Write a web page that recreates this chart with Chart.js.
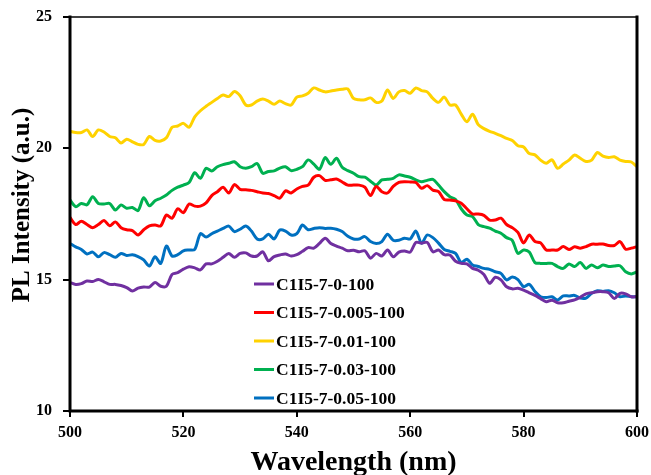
<!DOCTYPE html>
<html>
<head>
<meta charset="utf-8">
<script src="https://cdn.jsdelivr.net/npm/chart.js@4.4.1/dist/chart.umd.min.js"></script>
<style>
html,body{margin:0;padding:0;background:#fff;}
#wrap{width:651px;height:475px;}
</style>
</head>
<body>
<div id="wrap"><canvas id="c" width="651" height="475"></canvas></div>
<script>
const wavelengths = Array.from({length: 101}, (_, i) => 500 + i);

const seriesNames = ["C1I5-7-0-100", "C1I5-7-0.005-100", "C1I5-7-0.01-100", "C1I5-7-0.03-100", "C1I5-7-0.05-100"];

const s0 = [14.89,14.82,14.85,14.95,14.93,15.01,14.92,14.82,14.82,14.78,
14.70,14.57,14.68,14.72,14.72,14.89,14.75,14.75,15.20,15.27,
15.40,15.49,15.45,15.37,15.60,15.60,15.70,15.85,16.00,15.85,
16.00,16.02,15.90,15.90,16.06,15.72,15.88,15.94,15.98,15.90,
15.95,16.08,16.22,16.20,16.38,16.58,16.38,16.28,16.20,16.10,
16.12,16.06,16.10,15.82,16.00,15.90,16.13,15.87,16.05,16.09,
16.05,16.42,16.39,16.42,16.06,16.13,15.95,15.94,15.70,15.62,
15.60,15.43,15.36,15.20,14.86,15.09,14.99,14.73,14.65,14.67,
14.60,14.50,14.40,14.28,14.16,14.22,14.12,14.12,14.18,14.23,
14.33,14.46,14.50,14.54,14.54,14.50,14.28,14.48,14.46,14.35,14.35];

const s005 = [17.37,17.10,17.22,17.10,16.98,17.10,17.25,17.05,17.20,16.98,
16.90,16.87,16.70,16.90,17.05,17.08,17.05,17.46,17.34,17.70,
17.55,17.88,17.80,17.80,17.92,18.20,18.35,18.52,18.30,18.62,
18.44,18.42,18.40,18.35,18.30,18.28,18.20,18.10,18.38,18.30,
18.45,18.55,18.60,18.90,18.96,18.78,18.80,18.83,18.72,18.60,
18.60,18.60,18.52,18.20,18.55,18.35,18.30,18.55,18.70,18.73,
18.72,18.70,18.48,18.58,18.41,18.35,18.05,18.03,18.00,17.91,
17.70,17.50,17.50,17.45,17.27,17.27,17.34,17.10,16.98,16.80,
16.40,16.70,16.45,16.40,16.13,16.13,16.13,16.26,16.15,16.25,
16.20,16.26,16.35,16.35,16.36,16.30,16.30,16.45,16.16,16.20,16.26];

const s01 = [20.65,20.60,20.60,20.70,20.45,20.70,20.62,20.45,20.40,20.20,
20.35,20.25,20.15,20.15,20.45,20.30,20.28,20.40,20.80,20.85,
20.95,20.80,21.20,21.43,21.60,21.75,21.90,22.03,21.97,22.16,
22.00,21.65,21.65,21.80,21.88,21.80,21.68,21.80,21.70,21.65,
21.95,22.00,22.10,22.30,22.22,22.15,22.18,22.22,22.25,22.26,
21.90,21.85,21.85,21.92,21.75,21.80,22.22,21.90,22.15,22.20,
22.10,22.30,22.20,22.15,21.90,21.75,21.95,21.65,21.65,21.30,
21.01,21.30,20.90,20.75,20.65,20.57,20.48,20.38,20.30,20.10,
20.05,19.80,19.75,19.55,19.43,19.56,19.24,19.40,19.55,19.75,
19.62,19.50,19.55,19.84,19.70,19.65,19.68,19.55,19.50,19.48,19.30];

const s03 = [18.03,17.78,17.90,17.85,18.16,17.90,17.88,17.90,17.65,17.84,
17.72,17.75,17.63,18.12,17.81,18.00,18.10,18.22,18.40,18.52,
18.60,18.70,19.07,18.86,19.24,19.14,19.30,19.38,19.43,19.49,
19.30,19.24,19.30,19.42,19.05,19.12,19.14,19.25,19.30,19.15,
19.20,19.30,19.56,19.40,19.20,19.65,19.39,19.62,19.28,19.15,
19.05,18.92,18.90,18.75,18.60,18.80,18.82,18.86,18.99,18.95,
18.90,18.80,18.73,18.78,18.82,18.60,18.35,18.16,18.05,17.70,
17.46,17.40,17.10,17.02,16.96,16.85,16.77,16.60,16.50,16.00,
16.13,16.05,15.65,15.62,15.62,15.62,15.50,15.43,15.60,15.50,
15.65,15.43,15.56,15.45,15.56,15.50,15.52,15.53,15.30,15.22,15.30];

const s05 = [16.38,16.25,16.15,15.98,16.05,15.87,16.03,15.95,15.85,16.00,
15.92,15.95,15.88,15.75,15.52,15.87,15.62,16.28,15.90,15.95,
16.10,16.13,16.15,16.75,16.62,16.75,16.85,16.95,17.04,16.83,
16.92,17.04,16.85,16.55,16.55,16.73,16.55,16.89,16.85,16.70,
16.75,17.08,16.90,16.95,16.98,16.95,16.96,16.92,16.83,16.65,
16.55,16.55,16.64,16.45,16.38,16.45,16.73,16.50,16.50,16.58,
16.55,16.85,16.39,16.70,16.60,16.39,16.15,16.08,16.00,15.65,
15.78,15.56,15.50,15.43,15.39,15.30,15.24,14.99,15.10,15.00,
14.73,14.82,14.55,14.35,14.32,14.35,14.23,14.38,14.38,14.40,
14.30,14.30,14.48,14.58,14.55,14.58,14.50,14.35,14.38,14.35,14.35];

const xTicks = [500, 520, 540, 560, 580, 600];
const yTicks = [10, 15, 20, 25];

const colors = ["#7030A0", "#FF0000", "#FFD200", "#00B050", "#0070C0"];
const seriesValues = [s0, s005, s01, s03, s05];

const FONT = "'Liberation Serif', 'Times New Roman', serif";
const Y_TITLE = 'PL Intensity (a.u.)';

const frame = {
  id: 'frame',
  afterDatasetsDraw(chart) {
    const {ctx, chartArea: a} = chart;
    ctx.save();
    ctx.strokeStyle = '#000';
    ctx.lineCap = 'square';
    ctx.lineWidth = 1.5;
    ctx.beginPath(); ctx.moveTo(a.left, a.top); ctx.lineTo(a.right, a.top); ctx.stroke();
    ctx.lineWidth = 3;
    ctx.beginPath(); ctx.moveTo(a.right, a.top); ctx.lineTo(a.right, a.bottom); ctx.stroke();
    ctx.beginPath(); ctx.moveTo(a.left, a.top); ctx.lineTo(a.left, a.bottom); ctx.lineTo(a.right, a.bottom); ctx.stroke();
    ctx.restore();
  }
};

const legendBox = {
  id: 'legendBox',
  afterDraw(chart) {
    const {ctx} = chart;
    ctx.save();
    ctx.font = "bold 17.5px " + FONT;
    ctx.textBaseline = 'middle';
    ctx.textAlign = 'left';
    chart.data.datasets.forEach((ds, i) => {
      const y = 284 + i * 28.5;
      ctx.fillStyle = ds.borderColor;
      ctx.fillRect(254, y - 1.5, 20, 3);
      ctx.fillStyle = '#000';
      ctx.fillText(ds.label, 276, y + 1);
    });
    ctx.save();
    ctx.translate(23, 205);
    ctx.rotate(-Math.PI / 2);
    ctx.font = "bold 25px " + FONT;
    ctx.textAlign = 'center';
    ctx.textBaseline = 'middle';
    ctx.fillText(Y_TITLE, 0, 0);
    ctx.restore();
    ctx.restore();
  }
};

new Chart(document.getElementById('c'), {
  type: 'line',
  data: {
    datasets: seriesNames.map((name, i) => ({
      label: name,
      data: wavelengths.map((w, j) => ({x: w, y: seriesValues[i][j]})),
      borderColor: colors[i],
      backgroundColor: colors[i],
      borderWidth: 3,
      pointRadius: 0,
      tension: 0.3,
      fill: false,
      borderCapStyle: 'round',
      borderJoinStyle: 'round'
    }))
  },
  options: {
    responsive: false,
    animation: false,
    devicePixelRatio: 1,
    layout: {padding: {top: 17, right: 0, left: 0, bottom: 0}},
    plugins: {legend: {display: false}, tooltip: {enabled: false}},
    scales: {
      x: {
        type: 'linear',
        min: 500, max: 600,
        afterFit(s) { s.height = 64; s.paddingRight = 14; },
        afterBuildTicks(s) { s.ticks = xTicks.map(v => ({value: v})); },
        border: {display: false},
        grid: {display: true, drawOnChartArea: false, drawTicks: true, tickLength: 6, color: '#000', lineWidth: 2},
        ticks: {color: '#000', padding: 6, font: {family: FONT, size: 16, weight: 'bold'}, maxRotation: 0},
        title: {display: true, text: 'Wavelength (nm)', color: '#000', padding: {top: 0, bottom: 0}, font: {family: FONT, size: 28, weight: 'bold', lineHeight: 0.86}}
      },
      y: {
        min: 10, max: 25,
        afterFit(s) { s.width = 70; s.paddingTop = 0; s.paddingBottom = 0; },
        afterBuildTicks(s) { s.ticks = yTicks.map(v => ({value: v})); },
        border: {display: false},
        grid: {display: true, drawOnChartArea: false, drawTicks: true, tickLength: 7, color: '#000', lineWidth: 2},
        ticks: {color: '#000', padding: 11, font: {family: FONT, size: 16, weight: 'bold'}},
        title: {display: false}
      }
    }
  },
  plugins: [frame, legendBox]
});
</script>
</body>
</html>
